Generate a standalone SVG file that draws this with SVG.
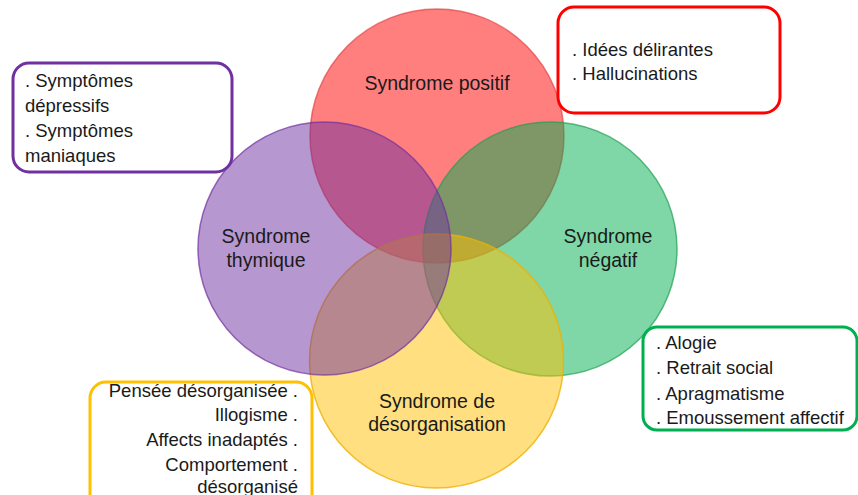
<svg xmlns="http://www.w3.org/2000/svg" width="858" height="495" viewBox="0 0 858 495">
<style>
.t{font-family:"Liberation Sans",Arial,sans-serif;font-size:18.5px;fill:#1a1a1a}
.l{font-size:19.5px}
.c{text-anchor:middle}
.r{text-anchor:end}
.box{fill:#fff;stroke-width:3}
.circ{fill-opacity:0.5;stroke-width:1.5}
</style>
<rect width="858" height="495" fill="#fff"/>
<g id="connectors"></g>
<g id="positif">
<circle class="circ" cx="437" cy="136" r="127" fill="#FF0000" stroke="#E03030" stroke-opacity="0.6"/>
</g>
<g id="negatif">
<circle class="circ" cx="550" cy="249" r="127" fill="#00B050" stroke="#20A050" stroke-opacity="0.7"/>
</g>
<g id="desorganisation">
<circle class="circ" cx="436.5" cy="361" r="127" fill="#FFC000" stroke="#F0B000" stroke-opacity="0.8"/>
</g>
<g id="thymique">
<circle class="circ" cx="324.5" cy="248.5" r="126.5" fill="#7030A0" stroke="#7030A0" stroke-opacity="0.7"/>
</g>
<g id="labels">
<text class="t l c" x="437" y="90">Syndrome positif</text>
<text class="t l c" x="266" y="243">Syndrome</text>
<text class="t l c" x="266" y="267">thymique</text>
<text class="t l c" x="608" y="243">Syndrome</text>
<text class="t l c" x="608" y="267">négatif</text>
<text class="t l c" x="437" y="408">Syndrome de</text>
<text class="t l c" x="437" y="431">désorganisation</text>
</g>
<g id="box-thymique">
<rect class="box" x="13" y="63" width="219" height="109" rx="16" stroke="#7030A0"/>
<text class="t" x="25" y="87">. Symptômes</text>
<text class="t" x="25" y="112">dépressifs</text>
<text class="t" x="25" y="137">. Symptômes</text>
<text class="t" x="25" y="162">maniaques</text>
</g>
<g id="box-positif">
<rect class="box" x="558" y="7" width="222" height="106" rx="16" stroke="#FF0000"/>
<text class="t" x="572" y="56">. Idées délirantes</text>
<text class="t" x="572" y="80">. Hallucinations</text>
</g>
<g id="box-negatif">
<rect class="box" x="643" y="327" width="214" height="103" rx="14" stroke="#00B050"/>
<text class="t" x="656" y="349">. Alogie</text>
<text class="t" x="656" y="374">. Retrait social</text>
<text class="t" x="656" y="400">. Apragmatisme</text>
<text class="t" x="656" y="424">. Emoussement affectif</text>
</g>
<g id="box-desorganisation">
<rect class="box" x="90" y="382" width="222" height="130" rx="16" stroke="#FFC000"/>
<text class="t r" x="298" y="397">Pensée désorganisée .</text>
<text class="t r" x="298" y="421">Illogisme .</text>
<text class="t r" x="298" y="446">Affects inadaptés .</text>
<text class="t r" x="298" y="471">Comportement .</text>
<text class="t r" x="298" y="493">désorganisé</text>
</g>
</svg>
